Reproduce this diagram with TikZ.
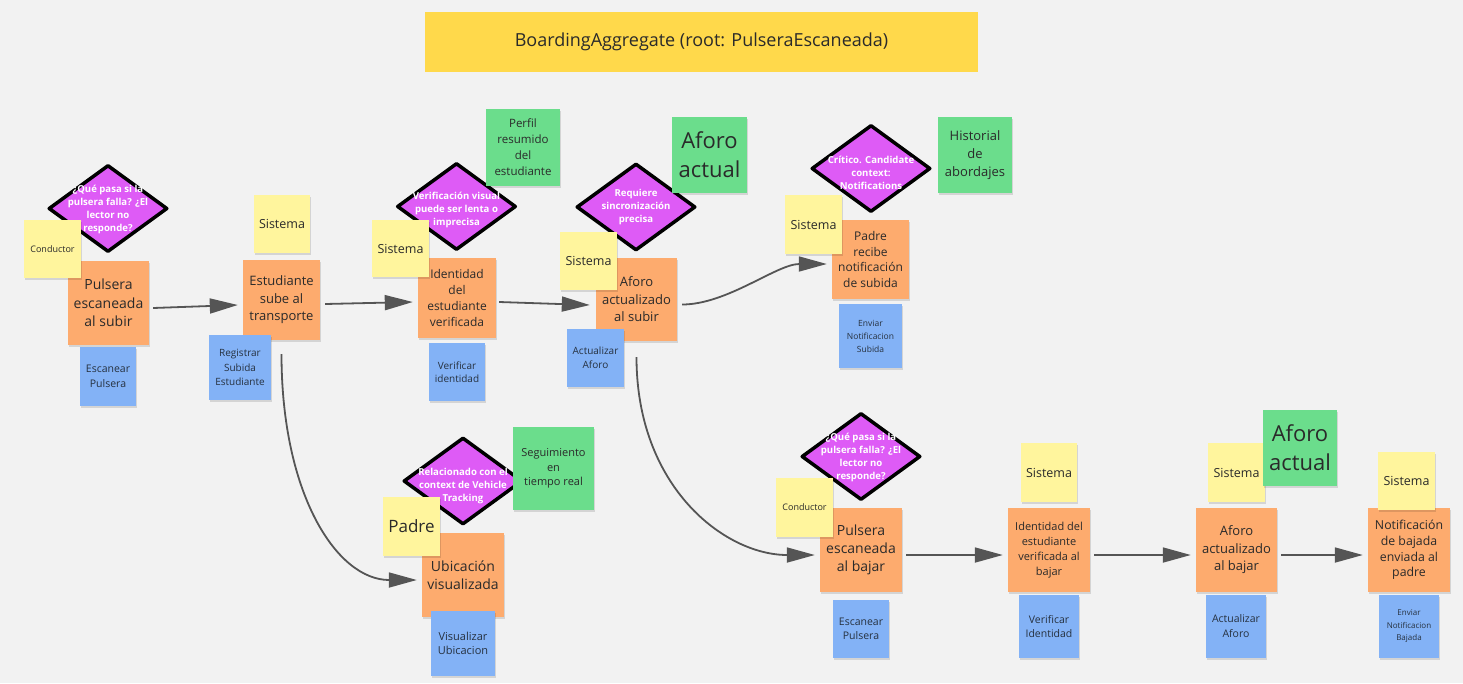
\documentclass[tikz,border=0pt]{standalone}
\usepackage{fontspec}
\setmainfont{Open Sans}
\usetikzlibrary{shapes.geometric,arrows.meta,calc,shadows}
\definecolor{bg}{HTML}{F2F2F2}
\definecolor{titlec}{HTML}{FFD94B}
\definecolor{orng}{HTML}{FDAB6E}
\definecolor{yelw}{HTML}{FFF59D}
\definecolor{grn}{HTML}{6BDD8C}
\definecolor{blu}{HTML}{83B2F6}
\definecolor{mag}{HTML}{DE5BF6}
\definecolor{txt}{HTML}{2A2A2A}
\definecolor{btxt}{HTML}{26313F}
\definecolor{arrc}{HTML}{555555}
\tikzset{
  base/.style={rectangle, inner sep=0pt, align=center, text=txt,
    drop shadow={shadow xshift=0.6pt, shadow yshift=-1.5pt, opacity=0.12, fill=black}},
  ev/.style={base, fill=orng, font=\fontsize{13}{17.5}\selectfont},
  cmd/.style={base, fill=blu, text=btxt, font=\fontsize{10.5}{14.5}\selectfont},
  actor/.style={base, fill=yelw, font=\fontsize{12.5}{16}\selectfont},
  rmod/.style={base, fill=grn, font=\fontsize{11.5}{16}\selectfont},
  dia/.style={diamond, draw=black, line width=3.5pt, line join=round, fill=mag,
    inner sep=0pt, minimum width=119pt, minimum height=87pt},
  dtx/.style={text=white, align=center, inner sep=0pt, font=\bfseries\fontsize{9.6}{13}\selectfont},
  flow/.style={draw=arrc, line width=1.8pt, -{Triangle[length=28pt,width=15pt]}},
  titlebox/.style={rectangle, fill=titlec, inner sep=0pt, text=txt,
    minimum width=553pt, minimum height=60pt, font=\fontsize{18}{21}\selectfont}
}
\begin{document}
\begin{tikzpicture}[x=1pt,y=-1pt]
\fill[bg] (0,0) rectangle (1463,683);
\useasboundingbox (0,0) rectangle (1463,683);

\node[titlebox] (title) at (701.5,42) {BoardingAggregate (root: PulseraEscaneada)};

% diamonds
\node[dia] (d1) at (108,208.5) {};
\node[dia] (d3) at (456.5,206.5) {};
\node[dia] (d4) at (636,207) {};
\node[dia] (d5) at (871,168.5) {};
\node[dia] (d6) at (463,481) {};
\node[dia] (d7) at (861,456.5) {};
\node[dtx] (t1) at (108,209.5) {¿Qué pasa si la\\pulsera falla? ¿El\\lector no\\responde?};
\node[dtx] (t3) at (456.5,210) {Verificación visual\\puede ser lenta o\\imprecisa};
\node[dtx] (t4) at (636,207) {Requiere\\sincronización\\precisa};
\node[dtx] (t5) at (871,173) {Crítico. Candidate\\context:\\Notifications};
\node[dtx] (t6) at (463,485.5) {Relacionado con el\\context de Vehicle\\Tracking};
\node[dtx] (t7) at (861,457) {¿Qué pasa si la\\pulsera falla? ¿El\\lector no\\responde?};

% events
\node[ev, minimum width=81pt, minimum height=84pt, font=\fontsize{14}{18.5}\selectfont] (o1) at (108.5,303) {Pulsera\\escaneada\\al subir};
\node[ev, minimum width=77pt, minimum height=80pt] (o2) at (281.5,300) {Estudiante\\sube al\\transporte};
\node[ev, minimum width=78pt, minimum height=80pt, font=\fontsize{12}{16.3}\selectfont] (o3) at (457,298) {Identidad\\del\\estudiante\\verificada};
\node[ev, minimum width=81pt, minimum height=83pt] (o4) at (636.5,299.5) {Aforo\\actualizado\\al subir};
\node[ev, minimum width=77pt, minimum height=79pt, font=\fontsize{12}{15.8}\selectfont] (o5) at (870.5,259.5) {Padre\\recibe\\notificación\\de subida};
\node[ev, minimum width=82pt, minimum height=84pt, font=\fontsize{14}{18}\selectfont] (o6) at (463,575) {Ubicación\\visualizada};
\node[ev, minimum width=82pt, minimum height=84pt, font=\fontsize{14}{18}\selectfont] (o7) at (861,550) {Pulsera\\escaneada\\al bajar};
\node[ev, minimum width=82pt, minimum height=84pt, font=\fontsize{11}{15}\selectfont] (o8) at (1049,550) {Identidad del\\estudiante\\verificada al\\bajar};
\node[ev, minimum width=81pt, minimum height=84pt] (o9) at (1236.5,550) {Aforo\\actualizado\\al bajar};
\node[ev, minimum width=82pt, minimum height=84pt, font=\fontsize{12.3}{15.8}\selectfont] (o10) at (1409,550) {Notificación\\de bajada\\enviada al\\padre};

% commands
\node[cmd, minimum width=56pt, minimum height=59pt] (b1) at (108,376.5) {Escanear\\Pulsera};
\node[cmd, minimum width=62pt, minimum height=65pt, font=\fontsize{10}{14.3}\selectfont] (b2) at (240,367.5) {Registrar\\Subida\\Estudiante};
\node[cmd, minimum width=56pt, minimum height=58pt, font=\fontsize{10}{13.5}\selectfont] (b3) at (457,372) {Verificar\\identidad};
\node[cmd, minimum width=57pt, minimum height=58pt, font=\fontsize{10}{14}\selectfont] (b4) at (595.5,358) {Actualizar\\Aforo};
\node[cmd, minimum width=63pt, minimum height=64pt, font=\fontsize{8.5}{13}\selectfont] (b5) at (870.5,336) {Enviar\\Notificacion\\Subida};
\node[cmd, minimum width=64pt, minimum height=65pt, font=\fontsize{11}{14.5}\selectfont] (b6) at (463,643.5) {Visualizar\\Ubicacion};
\node[cmd, minimum width=56pt, minimum height=58pt] (b7) at (861,629) {Escanear\\Pulsera};
\node[cmd, minimum width=60pt, minimum height=63pt] (b8) at (1049,626.5) {Verificar\\Identidad};
\node[cmd, minimum width=60pt, minimum height=63pt, font=\fontsize{10.5}{15}\selectfont] (b9) at (1236,626.5) {Actualizar\\Aforo};
\node[cmd, minimum width=60pt, minimum height=63pt, font=\fontsize{8}{12.5}\selectfont] (b10) at (1409,626.5) {Enviar\\Notificacion\\Bajada};

% actors
\node[actor, minimum width=57pt, minimum height=58pt, font=\fontsize{9}{12}\selectfont] (c1) at (52.5,249) {Conductor};
\node[actor, minimum width=56pt, minimum height=58pt] (s2) at (282,224) {Sistema};
\node[actor, minimum width=57pt, minimum height=57pt] (s3) at (400.5,248.5) {Sistema};
\node[actor, minimum width=57pt, minimum height=58pt] (s4) at (588.5,261) {Sistema};
\node[actor, minimum width=57pt, minimum height=59pt] (s5) at (813.5,224.5) {Sistema};
\node[actor, minimum width=57pt, minimum height=59pt, font=\fontsize{17}{20}\selectfont] (p6) at (411.5,526.5) {Padre};
\node[actor, minimum width=57pt, minimum height=59pt, font=\fontsize{9}{12}\selectfont] (c7) at (804.5,507.5) {Conductor};
\node[actor, minimum width=56pt, minimum height=59pt] (s8) at (1049,472.5) {Sistema};
\node[actor, minimum width=57pt, minimum height=59pt] (s9) at (1236.5,472.5) {Sistema};
\node[actor, minimum width=57pt, minimum height=58pt] (s10) at (1406.5,481) {Sistema};

% read models
\node[rmod, minimum width=74pt, minimum height=77pt] (g3) at (523,147.5) {Perfil\\resumido\\del\\estudiante};
\node[rmod, minimum width=75pt, minimum height=76pt, font=\fontsize{22}{29}\selectfont] (g4) at (709.5,155) {Aforo\\actual};
\node[rmod, minimum width=74pt, minimum height=76pt, font=\fontsize{13}{18.3}\selectfont] (g5) at (975,155) {Historial\\de\\abordajes};
\node[rmod, minimum width=81pt, minimum height=83pt, font=\fontsize{11}{14.3}\selectfont] (g6) at (553.5,468.5) {Seguimiento\\en\\tiempo real};
\node[rmod, minimum width=74pt, minimum height=76pt, font=\fontsize{22}{29}\selectfont] (g9) at (1300,448) {Aforo\\actual};

% flows
\draw[flow] ($(o1.east)+(4,5)$) -- ($(o2.west)+(-5,5)$);
\draw[flow] ($(o2.east)+(5,4)$) -- ($(o3.west)+(-5,4)$);
\draw[flow] ($(o3.east)+(3,4)$) -- ($(o4.west)+(-6,5.5)$);
\draw[flow] ($(o4.east)+(5,5)$) .. controls +(45,0) and +(-50,0) .. ($(o5.west)+(-5,4.5)$);
\draw[flow] ($(o2.south)+(0,14)$) .. controls +(0,140) and +(-80,0) .. ($(o6.west)+(-5,5)$);
\draw[flow] ($(o4.south)+(0,16)$) .. controls +(0,130) and +(-90,0) .. ($(o7.west)+(-5,5)$);
\draw[flow] ($(o7.east)+(4,5)$) -- ($(o8.west)+(-5,5)$);
\draw[flow] ($(o8.east)+(4,5)$) -- ($(o9.west)+(-5,5)$);
\draw[flow] ($(o9.east)+(4,5)$) -- ($(o10.west)+(-5,5)$);
\end{tikzpicture}
\end{document}
